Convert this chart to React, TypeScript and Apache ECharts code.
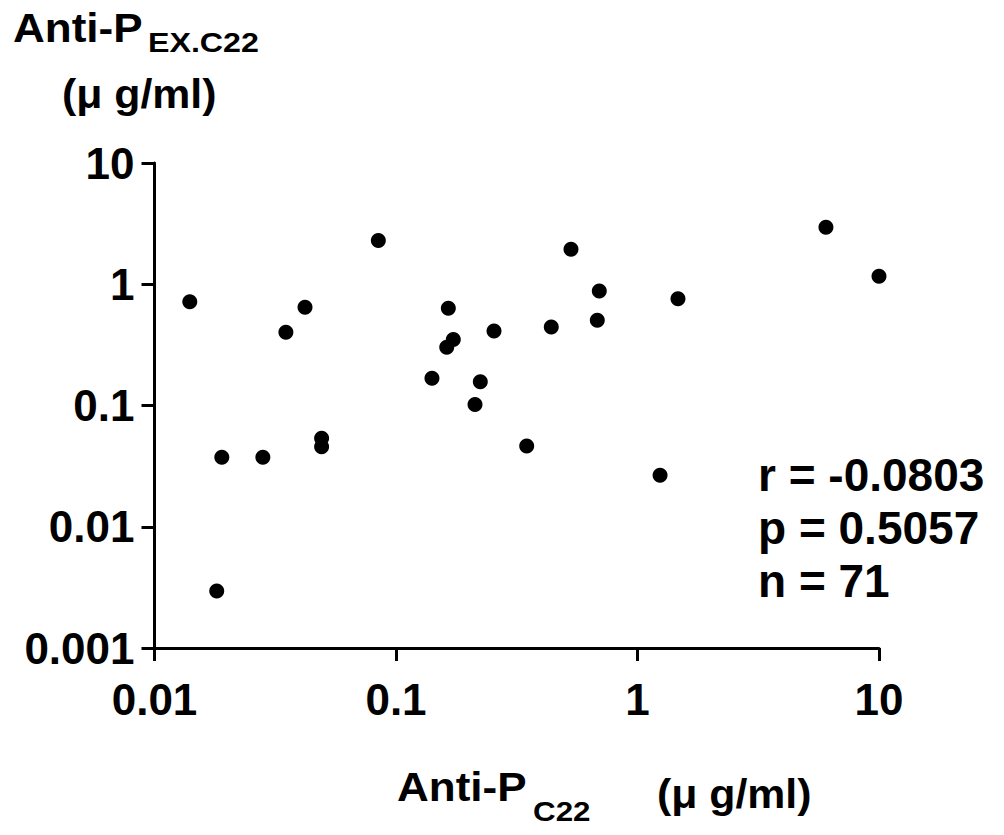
import React, { useEffect, useRef } from "react";
import * as echarts from "echarts";

// Anti-P C22 (x) and Anti-P EX.C22 (y), µg/ml
const antiPC22: number[] = [
  0.0140, 0.0190, 0.0181, 0.0281, 0.0350, 0.0420, 0.0492, 0.0492,
  0.0845, 0.1409, 0.1647, 0.1622, 0.1727, 0.2124, 0.2234, 0.2546,
  0.3477, 0.4395, 0.5304, 0.6947, 0.6816, 1.240, 1.471, 6.03, 10.0,
];
const antiPEXC22: number[] = [
  0.718, 0.0374, 0.00295, 0.0374, 0.402, 0.646, 0.0536, 0.0457,
  2.29, 0.1676, 0.633, 0.302, 0.351, 0.102, 0.157, 0.411,
  0.0463, 0.444, 1.942, 0.880, 0.504, 0.0266, 0.760, 2.949, 1.163,
];
const xTicks: number[] = [0.01, 0.1, 1, 10];
const yTicks: number[] = [0.001, 0.01, 0.1, 1, 10];
const statLines: string[] = ["r = -0.0803", "p = 0.5057", "n = 71"];

const FONT = "'Liberation Sans', Arial, sans-serif";

export default function App() {
  const ref = useRef<HTMLDivElement>(null);
  useEffect(() => {
    if (!ref.current) return;
    const chart = echarts.init(ref.current, null, { renderer: "svg" });
    const data = antiPC22.map((x, i) => [x, antiPEXC22[i]]);
    const fmt = (v: number) => {
      const t = [...xTicks, ...yTicks].find((k) => Math.abs(Math.log10(k) - Math.log10(v)) < 1e-6);
      return t !== undefined ? String(t) : "";
    };
    const axisCommon = {
      type: "log" as const,
      logBase: 10,
      axisLine: { show: true, onZero: false, lineStyle: { color: "#000", width: 3 } },
      axisTick: { show: true, length: 13, lineStyle: { color: "#000", width: 3 } },
      splitLine: { show: false },
      minorTick: { show: false },
    };
    const labelCommon = {
      color: "#000",
      fontFamily: FONT,
      fontWeight: "bold",
      fontSize: 44,
      formatter: fmt,
      showMinLabel: true,
      showMaxLabel: true,
    };
    const mainText = { fontFamily: FONT, fontWeight: "bold", fontSize: 40, fill: "#000", verticalAlign: "top" };
    const subText = { fontFamily: FONT, fontWeight: "bold", fontSize: 28, fill: "#000", verticalAlign: "top" };
    const t = (x: number, y: number, text: string, style: any, sx: number) => ({
      type: "text",
      x,
      y,
      scaleX: sx,
      style: { ...style, text },
    });
    chart.setOption({
      animation: false,
      backgroundColor: "#fff",
      grid: { left: 154.5, top: 163, width: 724.5, height: 485, containLabel: false },
      xAxis: { ...axisCommon, min: 0.01, max: 10, axisLabel: { ...labelCommon, margin: 29 } },
      yAxis: { ...axisCommon, min: 0.001, max: 10, axisLabel: { ...labelCommon, margin: 20 } },
      series: [
        {
          type: "scatter",
          data,
          symbol: "circle",
          symbolSize: 15,
          itemStyle: { color: "#000", opacity: 1 },
          clip: false,
        },
      ],
      graphic: [
        t(13, 8, "Anti-P", mainText, 1.1),
        t(148, 28.5, "EX.C22", subText, 1.15),
        t(62, 74, "(μ g/ml)", mainText, 1.07),
        t(397, 767, "Anti-P", mainText, 1.1),
        t(533, 797.5, "C22", subText, 1.12),
        t(657, 774, "(μ g/ml)", mainText, 1.07),
        ...statLines.map((s, i) =>
          t(758, 451.7 + i * 53, s, { ...mainText, fontSize: 46 }, 1)
        ),
      ],
    });
    return () => chart.dispose();
  }, []);
  return (
    <div
      ref={ref}
      style={{ position: "fixed", left: 0, top: 0, width: 1004, height: 835, background: "#fff" }}
    />
  );
}
